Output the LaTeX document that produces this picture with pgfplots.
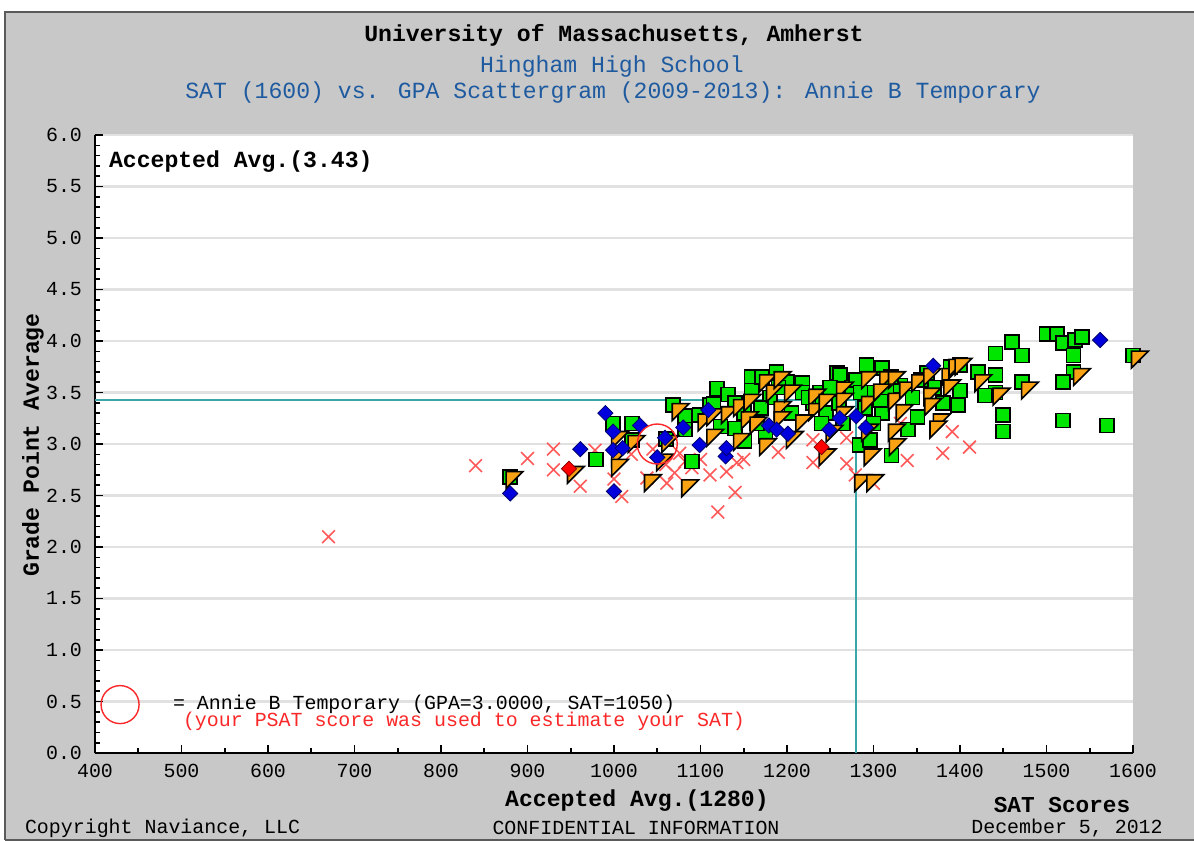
\documentclass[border=0pt]{standalone}
\usepackage{pgfplots}
\pgfplotsset{compat=1.18}
\usepackage{fontspec}
\setmainfont{Liberation Mono}
\setmonofont{Liberation Mono}
\definecolor{bggray}{RGB}{200,200,200}
\definecolor{framegray}{RGB}{90,90,90}
\definecolor{titleblue}{RGB}{30,90,160}
\definecolor{gridgray}{RGB}{225,225,225}
\definecolor{refteal}{RGB}{60,165,165}
\definecolor{sqgreen}{RGB}{0,230,0}
\definecolor{triorange}{RGB}{248,162,20}
\definecolor{diablue}{RGB}{0,0,220}
\definecolor{xred}{RGB}{255,90,90}
\definecolor{annred}{RGB}{250,40,40}
\pgfdeclareplotmark{flag}{%
  \pgfpathmoveto{\pgfqpoint{-\pgfplotmarksize}{\pgfplotmarksize}}%
  \pgfpathlineto{\pgfqpoint{\pgfplotmarksize}{\pgfplotmarksize}}%
  \pgfpathlineto{\pgfqpoint{-\pgfplotmarksize}{-\pgfplotmarksize}}%
  \pgfpathclose\pgfusepathqfillstroke}
\pgfdeclareplotmark{rhomb}{%
  \pgfpathmoveto{\pgfqpoint{0pt}{\pgfplotmarksize}}%
  \pgfpathlineto{\pgfqpoint{\pgfplotmarksize}{0pt}}%
  \pgfpathlineto{\pgfqpoint{0pt}{-\pgfplotmarksize}}%
  \pgfpathlineto{\pgfqpoint{-\pgfplotmarksize}{0pt}}%
  \pgfpathclose\pgfusepathqfillstroke}
\begin{document}
\begin{tikzpicture}
\useasboundingbox (0,0) rectangle (597bp,-420.5bp);
\fill[white] (0,0) rectangle (597bp,-420.5bp);
\fill[bggray] (2.5bp,-6bp) rectangle (597bp,-420.5bp);
\draw[framegray,line width=1.2bp] (2.5bp,-420bp) -- (2.5bp,-6bp) -- (597bp,-6bp);
\draw[framegray,line width=1bp] (2.5bp,-420bp) -- (597bp,-420bp);
\begin{axis}[
  at={(47.5bp,-376.5bp)}, anchor=south west,
  scale only axis, width=519bp, height=309bp,
  xmin=400, xmax=1600, ymin=0, ymax=6,
  xtick={400,500,...,1600}, ytick={0,0.5,...,6},
  minor x tick num=1, minor y tick num=4,
  axis x line*=bottom, axis y line*=left,
  axis line style={-,line width=1bp,black},
  tick align=inside, major tick length=4bp, minor tick length=2.5bp,
  tick style={black,line width=0.8bp},
  ymajorgrids, grid style={gridgray,line width=1.1bp},
  axis background/.style={fill=white},
  tick label style={font=\fontsize{10}{10}\selectfont},
  /pgf/number format/assume math mode=true,
  yticklabel style={xshift=-3bp,/pgf/number format/.cd,fixed,fixed zerofill,precision=1},
  xticklabel style={yshift=-2bp,/pgf/number format/.cd,set thousands separator={}},
  clip=false,
]
% reference lines
\addplot[refteal,line width=1bp,mark=none] coordinates {(400,3.43) (1280,3.43) (1280,0)};
% denied
\addplot[only marks, mark=x, mark size=4.5bp, xred, line width=0.8bp] coordinates {
(840,2.79) (670,2.10) (900,2.86) (930,2.95) (930,2.75) (961,2.59) (978,2.94)
(1000,2.66) (1009,2.49) (1038,2.67) (1045,2.95) (1061,2.62) (1070,2.72)
(1076,2.91) (1082,2.83) (1090,2.77) (1111,2.70) (1120,2.34) (1130,2.73)
(1142,2.82) (1140,2.53) (1190,2.92) (1230,2.82) (1230,3.04) (1269,3.06)
(1269,2.81) (1279,2.70) (1300,2.62) (1331,3.20) (1339,2.84) (1380,2.91)
(1391,3.12) (1411,2.97) (1020,2.90) (1100,2.85) (1060,2.80) (1150,2.85)};
% accepted (green squares)
\addplot[only marks, mark=square*, mark size=3.5bp, mark options={fill=sqgreen,draw=black,line width=0.8bp}] coordinates {
(880,2.68) (979,2.85) (999,3.20) (1021,3.20) (1021,3.04) (1068,3.38) (1082,3.27)
(1082,3.14) (1090,2.83) (1099,3.28) (1111,3.38) (1119,3.54) (1132,3.48)
(1140,3.40) (1150,3.30) (1159,3.65) (1159,3.52) (1171,3.65) (1188,3.70)
(1180,3.45) (1200,3.60) (1218,3.59) (1218,3.50) (1238,3.50) (1258,3.69)
(1245,3.30) (1261,3.67) (1265,3.20) (1275,3.55) (1284,2.99) (1292,3.77)
(1310,3.74) (1300,3.50) (1310,3.30) (1321,2.89) (1340,3.14) (1351,3.26)
(1362,3.69) (1389,3.75) (1400,3.77) (1421,3.70) (1441,3.88) (1460,3.99)
(1472,3.86) (1500,4.07) (1512,4.07) (1519,3.98) (1533,4.01) (1541,4.04)
(1531,3.86) (1531,3.70) (1519,3.60) (1441,3.67) (1472,3.60) (1441,3.50)
(1429,3.47) (1450,3.28) (1450,3.12) (1519,3.23) (1570,3.18) (1600,3.86)
(1151,3.03) (1123,3.17) (1175,3.08) (1115,3.39) (1308,3.43) (1296,3.04)
(1331,3.57) (1400,3.52) (1398,3.38) (1230,3.40) (1250,3.55) (1280,3.62)
(1170,3.35) (1205,3.30) (1320,3.65) (1345,3.45) (1370,3.55) (1060,3.05)
(1190,3.55) (1225,3.45) (1260,3.40) (1285,3.50) (1315,3.55) (1355,3.62)
(1380,3.40) (1240,3.20) (1140,3.15) (1165,3.20) (1300,3.20) (1290,3.35)};
% accepted, attending (orange flags)
\addplot[only marks, mark=flag, mark size=4.2bp, mark options={fill=triorange,draw=black,line width=0.8bp}] coordinates {
(885,2.65) (956,2.70) (1007,3.04) (1007,2.87) (1007,2.77) (1026,3.00) (1045,2.62)
(1059,2.82) (1065,3.00) (1077,3.31) (1088,2.57) (1107,3.21) (1117,3.26)
(1117,3.06) (1134,3.28) (1148,3.35) (1148,3.02) (1157,3.23) (1167,3.18)
(1178,3.59) (1178,2.97) (1186,3.49) (1195,3.62) (1195,3.33) (1195,3.23)
(1207,3.49) (1209,3.04) (1235,3.45) (1235,3.31) (1247,3.40) (1247,2.87)
(1267,3.52) (1267,3.41) (1267,3.28) (1296,3.62) (1296,3.38) (1296,3.11)
(1299,2.87) (1288,2.62) (1302,2.62) (1317,3.62) (1327,3.62) (1327,3.41)
(1340,3.52) (1336,3.30) (1327,3.11) (1328,2.97) (1354,3.59) (1368,3.65)
(1368,3.46) (1369,3.36) (1379,3.21) (1375,3.14) (1389,3.65) (1397,3.74)
(1404,3.75) (1391,3.54) (1427,3.59) (1448,3.46) (1481,3.52) (1541,3.65)
(1608,3.82) (1160,3.40) (1220,3.20) (1255,3.10) (1310,3.50)};
% blue diamonds
\addplot[only marks, mark=rhomb, mark size=3.8bp, mark options={fill=diablue,draw=black!50!diablue,line width=0.4bp}] coordinates {
(880,2.52) (990,3.30) (961,2.95) (1000,2.54) (1030,3.18) (999,3.12) (999,2.94)
(1010,2.96) (1050,2.87) (1059,3.06) (1080,3.16) (1099,2.99) (1109,3.33)
(1129,2.88) (1130,2.96) (1179,3.18) (1188,3.14) (1201,3.10) (1249,3.14)
(1261,3.25) (1280,3.27) (1291,3.16) (1369,3.76) (1562,4.01)};
% red diamonds
\addplot[only marks, mark=rhomb, mark size=3.8bp, mark options={fill=red,draw=black!50!red,line width=0.4bp}] coordinates {
(948,2.76) (1240,2.97)};
% student circle
\addplot[only marks, mark=o, mark size=10bp, annred, line width=0.7bp] coordinates {(1050,3.0)};
\addplot[only marks, mark=o, mark size=9.5bp, annred, line width=0.7bp] coordinates {(429,0.47)};
\end{axis}
\node[font=\bfseries\fontsize{11.6}{12}\selectfont] at (307bp,-17.5bp) {University of Massachusetts, Amherst};
\node[font=\fontsize{11.6}{12}\selectfont,text=titleblue] at (306bp,-33.5bp) {Hingham High School};
\node[font=\fontsize{11.6}{12}\selectfont,text=titleblue] at (306.5bp,-46.5bp) {SAT (1600) vs. GPA Scattergram (2009-2013): Annie B Temporary};
\node[font=\bfseries\fontsize{11.6}{12}\selectfont,rotate=90] at (16.5bp,-222.5bp) {Grade Point Average};
\node[font=\bfseries\fontsize{11.6}{12}\selectfont,anchor=west] at (51bp,-81bp) {Accepted Avg.(3.43)};
\node[font=\fontsize{10}{10}\selectfont,anchor=west] at (83bp,-352bp) {= Annie B Temporary (GPA=3.0000, SAT=1050)};
\node[font=\fontsize{10}{10}\selectfont,anchor=west,text=annred] at (88bp,-360.5bp) {(your PSAT score was used to estimate your SAT)};
\node[font=\bfseries\fontsize{11.6}{12}\selectfont] at (318.5bp,-400.5bp) {Accepted Avg.(1280)};
\node[font=\bfseries\fontsize{11.4}{12}\selectfont] at (531bp,-402.5bp) {SAT Scores};
\node[font=\fontsize{10}{10}\selectfont,anchor=west] at (9bp,-414bp) {Copyright Naviance, LLC};
\node[font=\fontsize{10}{10}\selectfont] at (318bp,-414bp) {CONFIDENTIAL INFORMATION};
\node[font=\fontsize{10}{10}\selectfont] at (533.5bp,-414bp) {December 5, 2012};
\end{tikzpicture}
\end{document}
